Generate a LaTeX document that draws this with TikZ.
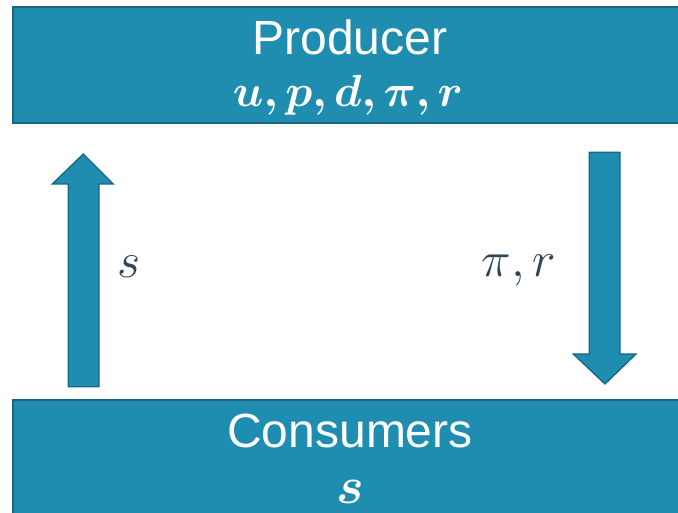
\RequirePackage{fix-cm}
\documentclass[tikz,border=0pt]{standalone}
\usepackage{bm}
\usepackage{fontspec}
\setmainfont{Liberation Sans}
\definecolor{boxfill}{RGB}{31,141,176}
\definecolor{boxline}{RGB}{24,102,132}
\definecolor{labelcol}{RGB}{45,70,88}
\tikzset{
  blockbox/.style={draw=boxline, fill=boxfill, line width=1.5pt, rectangle, inner sep=0pt},
  blockarrow/.style={draw=boxline, fill=boxfill, line width=1.3pt, line join=miter},
  titletext/.style={text=white, inner sep=0pt, anchor=base, font=\fontsize{48}{52}\selectfont},
  vartext/.style={text=white, inner sep=0pt, anchor=base, font=\fontsize{45}{49}\selectfont},
  sidelabel/.style={text=labelcol, inner sep=0pt, anchor=base, font=\fontsize{50}{54}\selectfont}
}
\begin{document}
\begin{tikzpicture}[x=1pt,y=-1pt]
\clip (0,0) rectangle (678,513);
\fill[white] (0,0) rectangle (678,513);
% boxes
\node[blockbox, minimum width=687pt, minimum height=116pt] (prod) at (356.5,65) {};
\node[blockbox, minimum width=687pt, minimum height=130pt] (cons) at (356.5,465) {};
% box texts
\node[titletext] (ptitle) at (350,55) {Producer};
\node[vartext] (pvars) at (348,107) {$\bm{u,p,d,\pi,r}$};
\node[titletext] (ctitle) at (350,447) {Consumers};
\node[vartext, font=\fontsize{52}{56}\selectfont] (cvars) at (350,503) {$\bm{s}$};
% arrows
\coordinate (uptip) at (83.3,154);
\coordinate (downtip) at (605,384);
\draw[blockarrow] (uptip) -- (113.3,184) -- (99,184) -- (99,386.7) -- (68.3,386.7) -- (68.3,184) -- (52.3,184) -- cycle;
\draw[blockarrow] (downtip) -- (636,354) -- (620,354) -- (620,152.3) -- (589.3,152.3) -- (589.3,354) -- (573.3,354) -- cycle;
% labels
\node[sidelabel] (ls) at (129.5,278) {$s$};
\node[sidelabel] (lpr) at (519,277) {$\pi,r$};
\end{tikzpicture}
\end{document}
